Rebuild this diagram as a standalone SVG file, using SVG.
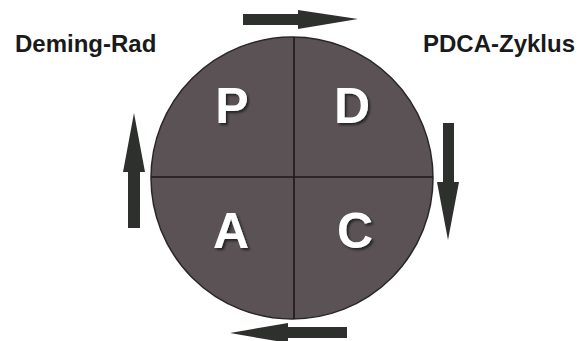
<svg xmlns="http://www.w3.org/2000/svg" width="581" height="341" viewBox="0 0 581 341">
  <defs>
    <filter id="shadow" x="-20%" y="-20%" width="140%" height="140%">
      <feDropShadow dx="2" dy="2" stdDeviation="0.8" flood-color="#1a1a1a" flood-opacity="0.9"/>
    </filter>
  </defs>
  <style>
    .title { font-family: "Liberation Sans", Arial, sans-serif; font-weight: bold; font-size: 24px; fill: #1a1a1a; }
    .letter { font-family: "Liberation Sans", Arial, sans-serif; font-weight: bold; font-size: 50px; fill: #ffffff; text-anchor: middle; filter: url(#shadow); }
    .divider { stroke: #1c1a1b; stroke-width: 1.6; }
    .arrow { fill: #2e302e; }
  </style>
  <rect width="581" height="341" fill="#ffffff"/>
  <g id="title-left"><text class="title" x="15" y="52">Deming-Rad</text></g>
  <g id="title-right"><text class="title" x="423" y="52">PDCA-Zyklus</text></g>
  <g id="wheel">
    <circle cx="292" cy="178" r="141" fill="#5a5255" stroke="#2a2628" stroke-width="1.5"/>
    <line class="divider" x1="294" y1="37" x2="294" y2="319"/>
    <line class="divider" x1="151" y1="177" x2="433" y2="177"/>
  </g>
  <g id="node-P"><text class="letter" x="232" y="123">P</text></g>
  <g id="node-D"><text class="letter" x="352" y="123">D</text></g>
  <g id="node-A"><text class="letter" x="231" y="248">A</text></g>
  <g id="node-C"><text class="letter" x="355" y="248">C</text></g>
  <g id="connectors">
    <path class="arrow" d="M243,14 L298,14 L298,10 L358,19 L298,29 L298,25 L243,25 Z"/>
    <path class="arrow" d="M443,123 L454,123 L454,182 L459,182 L448,240 L437,182 L443,182 Z"/>
    <path class="arrow" d="M347,327 L288,327 L288,323 L230,333 L288,343 L288,338 L347,338 Z"/>
    <path class="arrow" d="M128,228 L140,228 L140,172 L145,172 L134,113 L123,172 L128,172 Z"/>
  </g>
</svg>
